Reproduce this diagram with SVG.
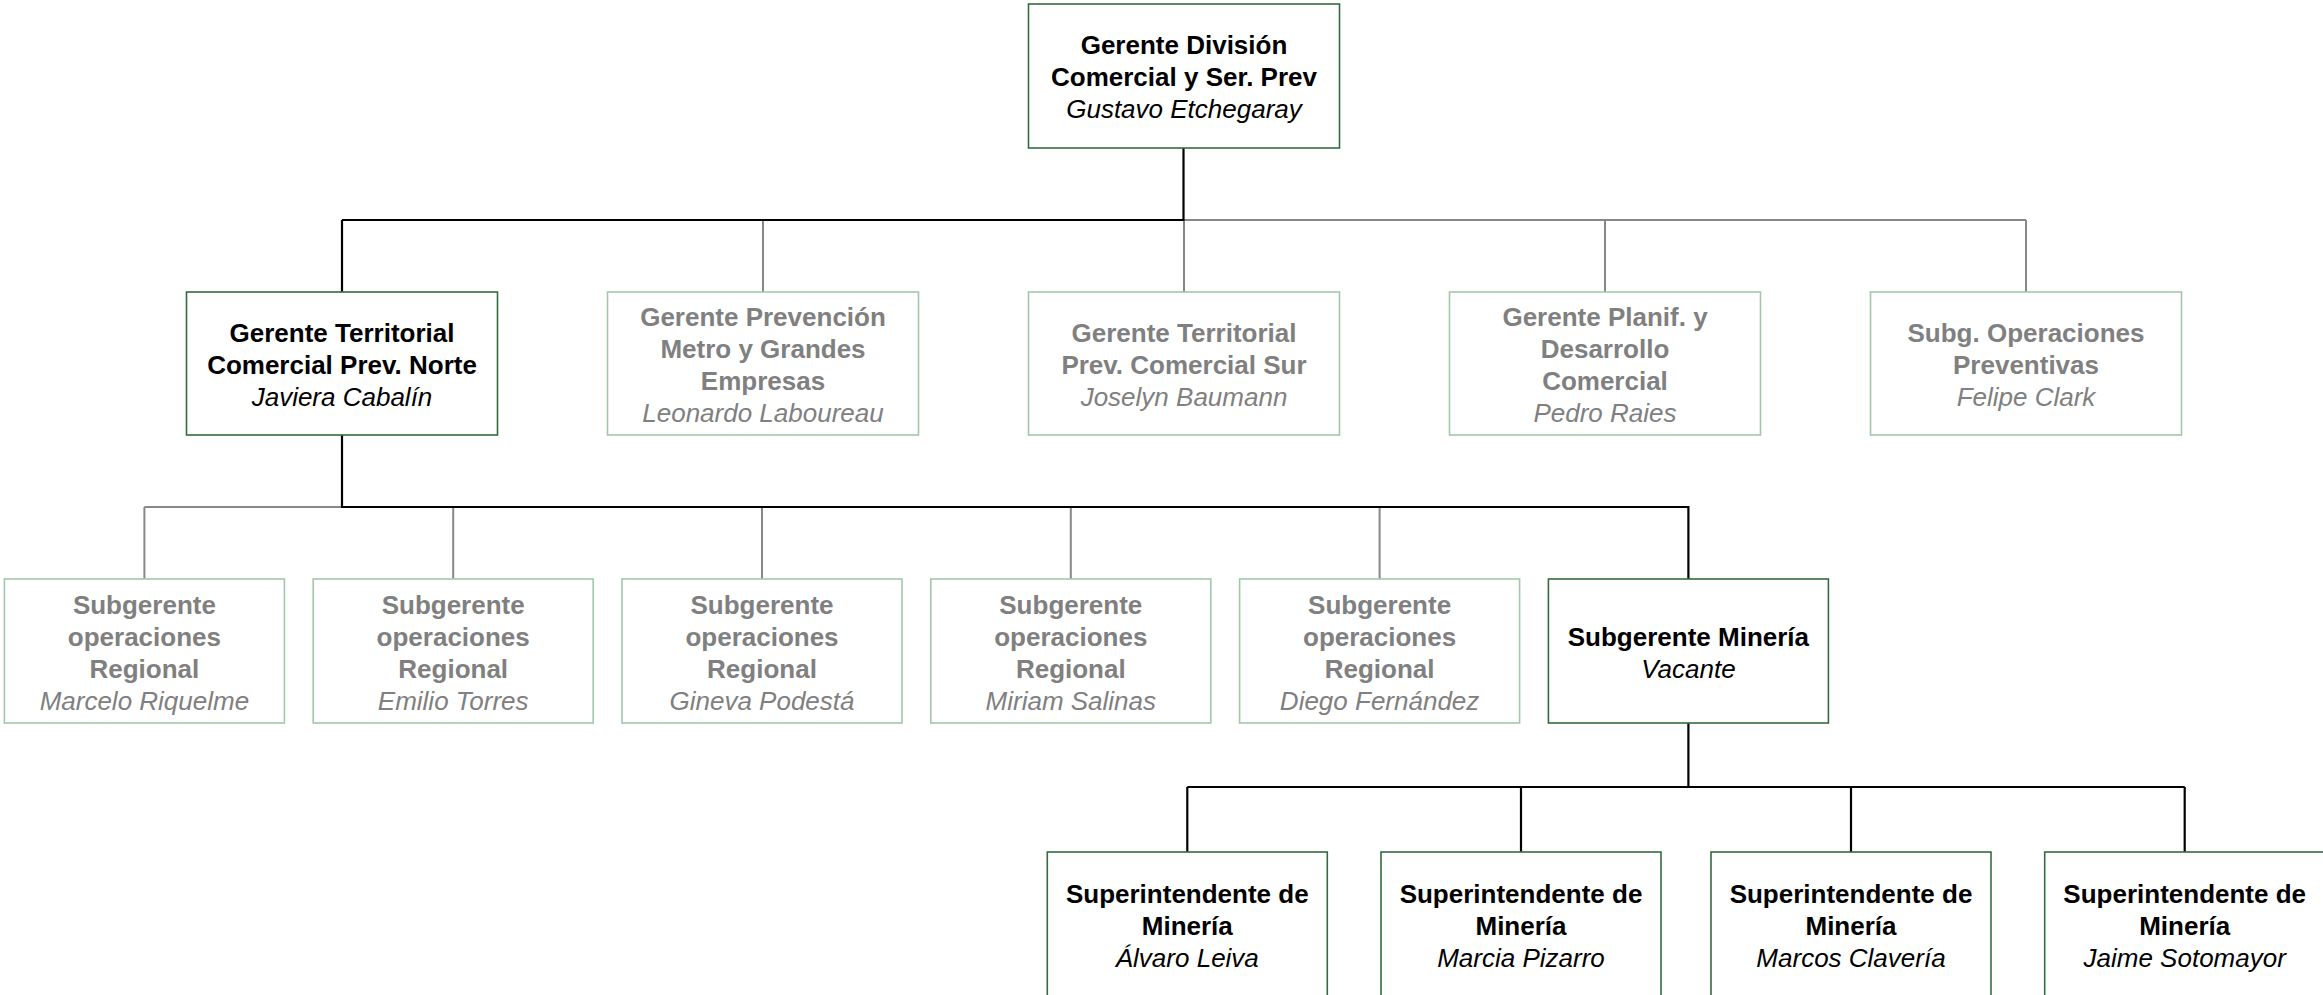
<svg xmlns="http://www.w3.org/2000/svg" width="2323" height="995" viewBox="0 0 2323 995">
<style>
.bg{fill:#ffffff}
.box{fill:#ffffff;stroke-width:1.6}
.on .box{stroke:#336d3f}
.off .box{stroke:#a3c7aa}
text{font-family:"Liberation Sans",Arial,Helvetica,sans-serif;font-size:26px;text-anchor:middle}
.t{font-weight:bold}
.n{font-style:italic}
.on text{fill:#000000}
.off text{fill:#808080}
.cb{fill:none;stroke:#000000;stroke-width:2.2}
.cg{fill:none;stroke:#888888;stroke-width:2}
</style>
<rect class="bg" x="0" y="0" width="2323" height="995"/>
<g id="connectors">
<path class="cg" d="M1183.5 220H2026M763 220V292M1184 220V292M1605 220V292M2026 220V292"/>
<path class="cg" d="M144.4 507H342M144.4 507V579M453.2 507V579M762 507V579M1070.8 507V579M1379.6 507V579"/>
<path class="cb" d="M1183.5 148V220M342 220H1184.5M342 220V292"/>
<path class="cb" d="M342 435V507M341 507H1688.4V579"/>
<path class="cb" d="M1688.4 723V787M1187.3 787H2184.7M1187.3 787V852M1521 787V852M1851 787V852M2184.7 787V852"/>
</g>
<g id="n-gerente-division" class="on">
<rect class="box" x="1028.5" y="4" width="311" height="144"/>
<text class="t" x="1184" y="54">Gerente División</text>
<text class="t" x="1184" y="86">Comercial y Ser. Prev</text>
<text class="n" x="1184" y="118">Gustavo Etchegaray</text>
</g>
<g id="n-gt-norte" class="on">
<rect class="box" x="186.5" y="292" width="311" height="143"/>
<text class="t" x="342" y="342">Gerente Territorial</text>
<text class="t" x="342" y="374">Comercial Prev. Norte</text>
<text class="n" x="342" y="406">Javiera Cabalín</text>
</g>
<g id="n-gp-metro" class="off">
<rect class="box" x="607.5" y="292" width="311" height="143"/>
<text class="t" x="763" y="326">Gerente Prevención</text>
<text class="t" x="763" y="358">Metro y Grandes</text>
<text class="t" x="763" y="390">Empresas</text>
<text class="n" x="763" y="422">Leonardo Laboureau</text>
</g>
<g id="n-gt-sur" class="off">
<rect class="box" x="1028.5" y="292" width="311" height="143"/>
<text class="t" x="1184" y="342">Gerente Territorial</text>
<text class="t" x="1184" y="374">Prev. Comercial Sur</text>
<text class="n" x="1184" y="406">Joselyn Baumann</text>
</g>
<g id="n-gp-planif" class="off">
<rect class="box" x="1449.5" y="292" width="311" height="143"/>
<text class="t" x="1605" y="326">Gerente Planif. y</text>
<text class="t" x="1605" y="358">Desarrollo</text>
<text class="t" x="1605" y="390">Comercial</text>
<text class="n" x="1605" y="422">Pedro Raies</text>
</g>
<g id="n-subg-oper" class="off">
<rect class="box" x="1870.5" y="292" width="311" height="143"/>
<text class="t" x="2026" y="342">Subg. Operaciones</text>
<text class="t" x="2026" y="374">Preventivas</text>
<text class="n" x="2026" y="406">Felipe Clark</text>
</g>
<g id="n-sor-1" class="off">
<rect class="box" x="4.4" y="579" width="280" height="144"/>
<text class="t" x="144.4" y="614">Subgerente</text>
<text class="t" x="144.4" y="646">operaciones</text>
<text class="t" x="144.4" y="678">Regional</text>
<text class="n" x="144.4" y="710">Marcelo Riquelme</text>
</g>
<g id="n-sor-2" class="off">
<rect class="box" x="313.2" y="579" width="280" height="144"/>
<text class="t" x="453.2" y="614">Subgerente</text>
<text class="t" x="453.2" y="646">operaciones</text>
<text class="t" x="453.2" y="678">Regional</text>
<text class="n" x="453.2" y="710">Emilio Torres</text>
</g>
<g id="n-sor-3" class="off">
<rect class="box" x="622" y="579" width="280" height="144"/>
<text class="t" x="762" y="614">Subgerente</text>
<text class="t" x="762" y="646">operaciones</text>
<text class="t" x="762" y="678">Regional</text>
<text class="n" x="762" y="710">Gineva Podestá</text>
</g>
<g id="n-sor-4" class="off">
<rect class="box" x="930.8" y="579" width="280" height="144"/>
<text class="t" x="1070.8" y="614">Subgerente</text>
<text class="t" x="1070.8" y="646">operaciones</text>
<text class="t" x="1070.8" y="678">Regional</text>
<text class="n" x="1070.8" y="710">Miriam Salinas</text>
</g>
<g id="n-sor-5" class="off">
<rect class="box" x="1239.6" y="579" width="280" height="144"/>
<text class="t" x="1379.6" y="614">Subgerente</text>
<text class="t" x="1379.6" y="646">operaciones</text>
<text class="t" x="1379.6" y="678">Regional</text>
<text class="n" x="1379.6" y="710">Diego Fernández</text>
</g>
<g id="n-sg-mineria" class="on">
<rect class="box" x="1548.4" y="579" width="280" height="144"/>
<text class="t" x="1688.4" y="646">Subgerente Minería</text>
<text class="n" x="1688.4" y="678">Vacante</text>
</g>
<g id="n-sup-1" class="on">
<rect class="box" x="1047.3" y="852" width="280" height="145"/>
<text class="t" x="1187.3" y="903">Superintendente de</text>
<text class="t" x="1187.3" y="935">Minería</text>
<text class="n" x="1187.3" y="967">Álvaro Leiva</text>
</g>
<g id="n-sup-2" class="on">
<rect class="box" x="1381" y="852" width="280" height="145"/>
<text class="t" x="1521" y="903">Superintendente de</text>
<text class="t" x="1521" y="935">Minería</text>
<text class="n" x="1521" y="967">Marcia Pizarro</text>
</g>
<g id="n-sup-3" class="on">
<rect class="box" x="1711" y="852" width="280" height="145"/>
<text class="t" x="1851" y="903">Superintendente de</text>
<text class="t" x="1851" y="935">Minería</text>
<text class="n" x="1851" y="967">Marcos Clavería</text>
</g>
<g id="n-sup-4" class="on">
<rect class="box" x="2044.7" y="852" width="280" height="145"/>
<text class="t" x="2184.7" y="903">Superintendente de</text>
<text class="t" x="2184.7" y="935">Minería</text>
<text class="n" x="2184.7" y="967">Jaime Sotomayor</text>
</g>
</svg>
